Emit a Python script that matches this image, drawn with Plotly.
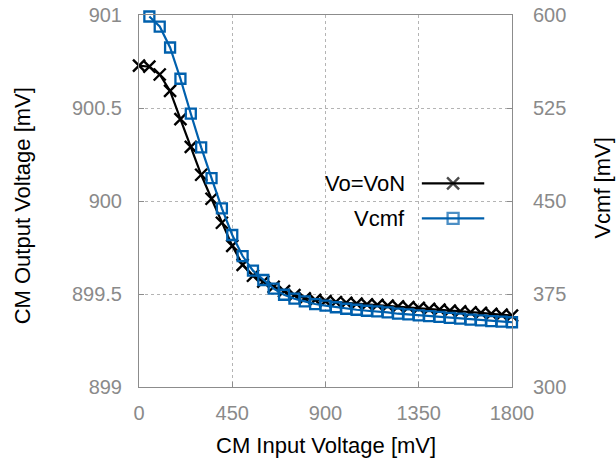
import plotly.graph_objects as go

# CM input sweep [mV]
vin_vo = [0, 50, 100, 150, 200, 250, 300, 350, 400, 450, 500, 550, 600, 650,
          700, 750, 800, 850, 900, 950, 1000, 1050, 1100, 1150, 1200, 1250,
          1300, 1350, 1400, 1450, 1500, 1550, 1600, 1650, 1700, 1750, 1800]
vin_vcmf = vin_vo[1:]

# CM output voltage Vo=VoN [mV] (left axis)
vo = [900.728, 900.722, 900.680, 900.592, 900.440, 900.291, 900.141, 900.012,
      899.883, 899.759, 899.657, 899.598, 899.566, 899.539, 899.515, 899.494,
      899.477, 899.468, 899.462, 899.457, 899.453, 899.448, 899.444, 899.441,
      899.438, 899.434, 899.429, 899.425, 899.420, 899.416, 899.411, 899.407,
      899.402, 899.398, 899.393, 899.389, 899.384]

# CMFB voltage Vcmf [mV] (right axis)
vcmf = [598.8, 590.7, 573.8, 548.6, 520.4, 493.3, 468.5, 444.1, 422.6, 405.6,
        393.8, 386.3, 379.3, 374.4, 371.2, 369.1, 366.9, 365.6, 364.3, 363.1,
        362.3, 361.5, 361.0, 360.2, 359.1, 358.5, 357.8, 357.1, 356.5, 355.8,
        355.1, 354.4, 353.8, 353.2, 352.7, 352.2]

x_ticks = [0, 450, 900, 1350, 1800]
y1_ticks = [899, 899.5, 900, 900.5, 901]
y1_labels = ["899", "899.5", "900", "900.5", "901"]
y2_ticks = [300, 375, 450, 525, 600]

series_names = ["Vo=VoN", "Vcmf"]

BLUE = "#0060ad"
GRAY = "#8a8a8a"
FRAME = "#8c8c8c"
GRID = "#b4b4b4"
FONT = "Liberation Sans, Arial, sans-serif"

fig = go.Figure()

fig.add_trace(go.Scatter(
    x=vin_vo, y=vo, mode="lines+markers", name=series_names[0],
    line=dict(color="black", width=2.2),
    marker=dict(symbol="x-thin-open", size=12, line=dict(color="black", width=2.4)),
    cliponaxis=False, showlegend=False))

fig.add_trace(go.Scatter(
    x=vin_vcmf, y=vcmf, mode="lines+markers", name=series_names[1], yaxis="y2",
    line=dict(color=BLUE, width=2.2),
    marker=dict(symbol="square-open", size=10, color=BLUE, line=dict(color=BLUE, width=2.3)),
    cliponaxis=False, showlegend=False))

# Key samples (text on the left, line + symbol on the right), drawn on a
# hidden unit overlay so they sit at fixed spots inside the frame
key_rows = [0.5476, 0.4535]
key_x = [0.7583, 0.8421, 0.9256]
fig.add_trace(go.Scatter(
    x=key_x, y=[key_rows[0]] * 3, xaxis="x3", yaxis="y3", mode="lines+markers",
    line=dict(color="black", width=2.2),
    marker=dict(symbol="x-thin-open", size=[0, 12, 0], line=dict(color="black", width=2.4)),
    showlegend=False, hoverinfo="skip"))
fig.add_trace(go.Scatter(
    x=key_x, y=[key_rows[1]] * 3, xaxis="x3", yaxis="y3", mode="lines+markers",
    line=dict(color=BLUE, width=2.2),
    marker=dict(symbol="square-open", size=[0, 11, 0], color=BLUE, line=dict(color=BLUE, width=2.3)),
    showlegend=False, hoverinfo="skip"))

for name, yrow in zip(series_names, key_rows):
    fig.add_annotation(x=0.7197, y=yrow, xref="paper", yref="paper", text=name,
                       showarrow=False, xanchor="right", yanchor="middle",
                       font=dict(family=FONT, size=22, color="black"))

axis_common = dict(
    ticks="inside", ticklen=5, tickcolor=FRAME, tickwidth=1,
    showline=True, linecolor=FRAME, linewidth=1,
    zeroline=False, tickfont=dict(family=FONT, size=20, color=GRAY),
)

fig.update_layout(
    width=616, height=460,
    margin=dict(l=139, r=104, t=15, b=73, autoexpand=False),
    paper_bgcolor="white", plot_bgcolor="white",
    font=dict(family=FONT),
    xaxis=dict(range=[0, 1800], tickvals=x_ticks, mirror=True,
               showgrid=True, gridcolor=GRID, griddash="dot", gridwidth=1,
               ticklabelstandoff=8, **axis_common),
    yaxis=dict(range=[899, 901], tickvals=y1_ticks, ticktext=y1_labels,
               showgrid=True, gridcolor=GRID, griddash="dot", gridwidth=1,
               ticklabelstandoff=12, **axis_common),
    yaxis2=dict(range=[300, 600], tickvals=y2_ticks, overlaying="y", side="right",
                showgrid=False, ticklabelstandoff=16, **axis_common),
    xaxis3=dict(range=[0, 1], overlaying="x", visible=False, fixedrange=True),
    yaxis3=dict(range=[0, 1], overlaying="y", visible=False, fixedrange=True),
)

# Axis titles
fig.add_annotation(x=0.5, y=-0.1586, xref="paper", yref="paper",
                   text="CM Input Voltage [mV]", showarrow=False,
                   xanchor="center", yanchor="middle",
                   font=dict(family=FONT, size=22, color="black"))
fig.add_annotation(x=-0.3123, y=0.487, xref="paper", yref="paper",
                   text="CM Output Voltage [mV]", showarrow=False, textangle=-90,
                   xanchor="center", yanchor="middle",
                   font=dict(family=FONT, size=22, color="black"))
fig.add_annotation(x=1.243, y=0.535, xref="paper", yref="paper",
                   text="Vcmf [mV]", showarrow=False, textangle=-90,
                   xanchor="center", yanchor="middle",
                   font=dict(family=FONT, size=22, color="black"))

fig.write_html("out.html")
